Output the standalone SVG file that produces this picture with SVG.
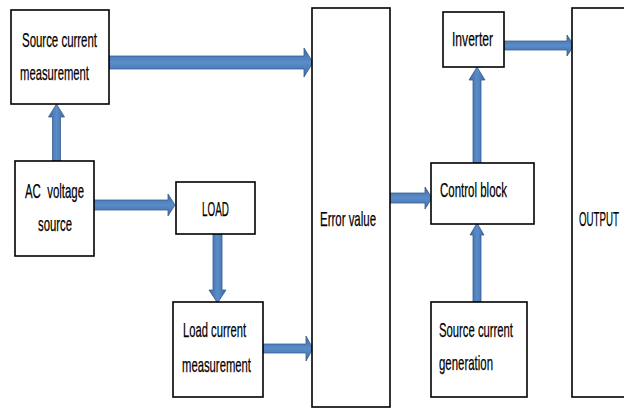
<svg xmlns="http://www.w3.org/2000/svg" width="624" height="408" viewBox="0 0 624 408">
<defs>
<linearGradient id="gh" x1="0" y1="0" x2="0" y2="1">
<stop offset="0" stop-color="#3D6BA6"/><stop offset="0.5" stop-color="#5A8CCA"/><stop offset="1" stop-color="#3D6BA6"/>
</linearGradient>
<linearGradient id="gv" x1="0" y1="0" x2="1" y2="0">
<stop offset="0" stop-color="#3D6BA6"/><stop offset="0.5" stop-color="#5A8CCA"/><stop offset="1" stop-color="#3D6BA6"/>
</linearGradient>
</defs>
<style>
.box{fill:#fff;stroke:#000;stroke-width:1.6}
.t{font-family:"Liberation Sans",Arial,sans-serif;font-size:21px;fill:#000;stroke:#000;stroke-width:0.25}
.ah{fill:url(#gh);stroke:#385D8A;stroke-width:0.8}
.av{fill:url(#gv);stroke:#385D8A;stroke-width:0.8}
</style>
<rect width="624" height="408" fill="#fff"/>
<g id="connectors">
<polygon class="ah" points="109,56 304,56 304,48 313,62.5 304,77 304,69 109,69"/>
<polygon class="ah" points="94,200 168,200 168,194 175,205 168,216 168,210 94,210"/>
<polygon class="ah" points="263,344 306,344 306,336 313,348.5 306,361 306,353 263,353"/>
<polygon class="ah" points="390,193 425,193 425,187 432,198 425,209 425,203 390,203"/>
<polygon class="ah" points="504,41 567,41 567,35 574,45.5 567,56 567,50 504,50"/>
<polygon class="av" points="52.5,161 52.5,117 48.5,117 56.5,104 64.5,117 60.5,117 60.5,161"/>
<polygon class="av" points="213,234 213,290 209,290 217.5,303 226,290 222,290 222,234"/>
<polygon class="av" points="473,163 473,80 469,80 477,67 485,80 481,80 481,163"/>
<polygon class="av" points="473,302 473,235 470,235 477,223 484,235 481,235 481,302"/>
</g>
<g id="source-current-measurement">
<rect class="box" x="11" y="10" width="98" height="94"/>
<text class="t" x="22" y="47" textLength="75" lengthAdjust="spacingAndGlyphs">Source current</text>
<text class="t" x="20" y="80" textLength="69" lengthAdjust="spacingAndGlyphs">measurement</text>
</g>
<g id="ac-voltage-source">
<rect class="box" x="15" y="161" width="79" height="95"/>
<text class="t" x="25" y="198" textLength="59" lengthAdjust="spacingAndGlyphs" style="white-space:pre">AC  voltage</text>
<text class="t" x="38" y="231" textLength="34" lengthAdjust="spacingAndGlyphs">source</text>
</g>
<g id="load">
<rect class="box" x="176" y="182" width="79" height="52"/>
<text class="t" x="202" y="216" textLength="27" lengthAdjust="spacingAndGlyphs">LOAD</text>
</g>
<g id="load-current-measurement">
<rect class="box" x="173" y="302" width="90" height="95"/>
<text class="t" x="183" y="337" textLength="63" lengthAdjust="spacingAndGlyphs">Load current</text>
<text class="t" x="182" y="372" textLength="69" lengthAdjust="spacingAndGlyphs">measurement</text>
</g>
<g id="error-value">
<rect class="box" x="312" y="8" width="78" height="399"/>
<text class="t" x="320" y="226" textLength="56" lengthAdjust="spacingAndGlyphs">Error value</text>
</g>
<g id="control-block">
<rect class="box" x="431" y="163" width="103" height="61"/>
<text class="t" x="440" y="197" textLength="67" lengthAdjust="spacingAndGlyphs">Control block</text>
</g>
<g id="inverter">
<rect class="box" x="443" y="12" width="61" height="55"/>
<text class="t" x="452" y="46" textLength="41" lengthAdjust="spacingAndGlyphs">Inverter</text>
</g>
<g id="source-current-generation">
<rect class="box" x="431" y="302" width="96" height="95"/>
<text class="t" x="439" y="337" textLength="74" lengthAdjust="spacingAndGlyphs">Source current</text>
<text class="t" x="439" y="370" textLength="54" lengthAdjust="spacingAndGlyphs">generation</text>
</g>
<g id="output">
<rect class="box" x="572" y="8" width="70" height="389"/>
<text class="t" x="579" y="226" textLength="40" lengthAdjust="spacingAndGlyphs">OUTPUT</text>
</g>
</svg>
